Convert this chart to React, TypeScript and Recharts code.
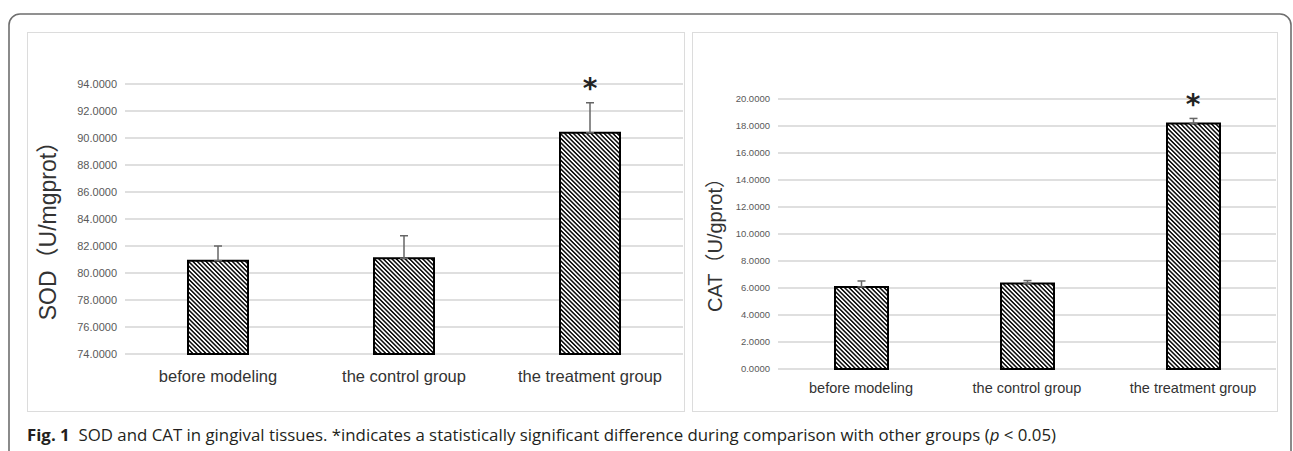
import React from "react";
import {
  BarChart,
  Bar,
  XAxis,
  YAxis,
  CartesianGrid,
  ErrorBar,
  ReferenceDot,
} from "recharts";

// groups on the x axis (shared by both panels)
const groups = ["before modeling", "the control group", "the treatment group"];
const significant = [false, false, true];

// SOD (U/mgprot): mean and SD
const sodMean = [80.91, 81.09, 90.39];
const sodSd = [1.09, 1.67, 2.22];
const sodTicks = [74, 76, 78, 80, 82, 84, 86, 88, 90, 92, 94];

// CAT (U/gprot): mean and SD
const catMean = [6.08, 6.33, 18.18];
const catSd = [0.44, 0.22, 0.38];
const catTicks = [0, 2, 4, 6, 8, 10, 12, 14, 16, 18, 20];

const SANS = "'Liberation Sans', Arial, 'Noto Sans CJK SC', sans-serif";
const GRID = "#d4d4d4";

const buildRows = (mean: number[], sd: number[]) =>
  groups.map((g, i) => ({
    group: g,
    mean: mean[i],
    err: [0, sd[i]],
    upper: mean[i] + sd[i],
    sig: significant[i],
  }));

// rotated axis title, drawn at a fixed x inside the chart
const AxisTitle = ({ viewBox, text, cx, size, shift }: any) => {
  const cy = viewBox.y + viewBox.height / 2 + shift;
  return (
    <text
      x={cx}
      y={cy}
      transform={`rotate(-90, ${cx}, ${cy})`}
      textAnchor="middle"
      dominantBaseline="central"
      fill="#333"
      style={{ fontFamily: SANS, fontSize: size }}
    >
      {text}
    </text>
  );
};

const Star = ({ viewBox, size, gap }: any) => {
  const cx = viewBox.x + viewBox.width / 2;
  const cy = viewBox.y + viewBox.height / 2 - gap;
  return (
    <text
      x={cx}
      y={cy + size * 0.56}
      textAnchor="middle"
      fill="#222"
      fontWeight="bold"
      style={{ fontFamily: "'DejaVu Sans', sans-serif", fontSize: size }}
    >
      *
    </text>
  );
};

interface PanelProps {
  rows: any[];
  ticks: number[];
  width: number;
  height: number;
  margin: any;
  barSize: number;
  pattern: string;
  title: string;
  titleX: number;
  titleSize: number;
  tickSize: number;
  catSize: number;
  tickGap: number;
  xHeight: number;
}

const Panel = ({
  rows,
  ticks,
  width,
  height,
  margin,
  barSize,
  pattern,
  title,
  titleX,
  titleSize,
  tickSize,
  catSize,
  tickGap,
  xHeight,
}: PanelProps) => (
  <BarChart width={width} height={height} data={rows} margin={margin}>
    <CartesianGrid vertical={false} stroke={GRID} strokeWidth={1.6} />
    <XAxis
      dataKey="group"
      interval={0}
      tickLine={false}
      axisLine={false}
      height={xHeight}
      tickMargin={tickGap}
      tick={{ fill: "#333", fontSize: catSize, fontFamily: SANS }}
    />
    <YAxis
      domain={[ticks[0], ticks[ticks.length - 1]]}
      ticks={ticks}
      interval={0}
      width={60}
      tickLine={false}
      axisLine={false}
      tickFormatter={(v: number) => v.toFixed(4)}
      tick={{ fill: "#595959", fontSize: tickSize, fontFamily: SANS }}
      label={(p: any) => (
        <AxisTitle {...p} text={title} cx={titleX} size={titleSize} shift={6} />
      )}
    />
    <Bar
      dataKey="mean"
      barSize={barSize}
      fill={`url(#${pattern})`}
      stroke="#000"
      strokeWidth={2}
      isAnimationActive={false}
    >
      <ErrorBar
        dataKey="err"
        direction="y"
        width={4}
        stroke="#666"
        strokeWidth={1.5}
      />
    </Bar>
    {rows
      .filter((r) => r.sig)
      .map((r) => (
        <ReferenceDot
          key={r.group}
          x={r.group}
          y={r.upper}
          r={0}
          stroke="none"
          fill="none"
          label={(p: any) => <Star {...p} size={28} gap={20} />}
        />
      ))}
  </BarChart>
);

const Hatch = ({ id }: { id: string }) => (
  <pattern
    id={id}
    patternUnits="userSpaceOnUse"
    width={3.1}
    height={3.1}
    patternTransform="rotate(-45)"
  >
    <rect width={3.1} height={3.1} fill="#fff" />
    <line x1={1.55} y1={0} x2={1.55} y2={3.1} stroke="#000" strokeWidth={1.45} />
  </pattern>
);

const panelBox = (left: number, width: number): React.CSSProperties => ({
  position: "absolute",
  left,
  top: 32,
  width,
  height: 380,
  border: "1px solid #dcdcdc",
  boxSizing: "border-box",
  background: "#fff",
});

export default function App() {
  const sodRows = buildRows(sodMean, sodSd);
  const catRows = buildRows(catMean, catSd);

  return (
    <div
      style={{
        position: "absolute",
        left: 0,
        top: 0,
        width: 1293,
        height: 451,
        overflow: "hidden",
        background: "#fff",
      }}
    >
      <svg
        width={1293}
        height={451}
        style={{ position: "absolute", left: 0, top: 0 }}
      >
        <defs>
          <Hatch id="hatchSod" />
          <Hatch id="hatchCat" />
        </defs>
        <rect
          x={9}
          y={14}
          width={1282}
          height={470}
          rx={11}
          fill="none"
          stroke="#6e6e6e"
          strokeWidth={1.6}
        />
        <text
          x={27}
          y={441}
          textLength={1029}
          lengthAdjust="spacingAndGlyphs"
          fill="#231f20"
          style={{
            fontFamily: "'Open Sans', 'Noto Sans', sans-serif",
            fontSize: 15.5,
            whiteSpace: "pre",
          }}
        >
          <tspan fontWeight="bold">Fig. 1</tspan>
          <tspan>{"  SOD and CAT in gingival tissues. *indicates a statistically significant difference during comparison with other groups ("}</tspan>
          <tspan fontStyle="italic">p</tspan>
          <tspan>{" < 0.05)"}</tspan>
        </text>
      </svg>

      <div style={panelBox(27, 658)}>
        <Panel
          rows={sodRows}
          ticks={sodTicks}
          width={656}
          height={378}
          margin={{ top: 51, right: 1, bottom: 17, left: 37 }}
          barSize={60}
          pattern="hatchSod"
          title="SOD（U/mgprot）"
          titleX={20}
          titleSize={23}
          tickSize={11}
          catSize={16.5}
          tickGap={10}
          xHeight={40}
        />
      </div>

      <div style={panelBox(692, 586)}>
        <Panel
          rows={catRows}
          ticks={catTicks}
          width={584}
          height={378}
          margin={{ top: 66, right: 1, bottom: 5, left: 25 }}
          barSize={53}
          pattern="hatchCat"
          title="CAT（U/gprot）"
          titleX={22}
          titleSize={20}
          tickSize={9.5}
          catSize={14.5}
          tickGap={8}
          xHeight={37}
        />
      </div>
    </div>
  );
}
